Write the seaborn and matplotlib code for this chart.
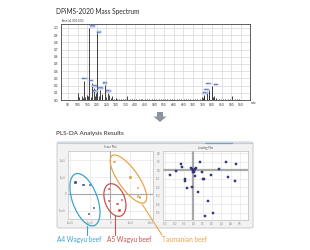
import numpy as np
import pandas as pd
import matplotlib
matplotlib.use("Agg")
import matplotlib.pyplot as plt
import seaborn as sns
from matplotlib.patches import Ellipse, FancyBboxPatch, Polygon
from matplotlib.lines import Line2D
from matplotlib.transforms import IdentityTransform

# ---------------- data ----------------
spec_mz = [104, 109, 121, 126, 132, 138, 147, 156, 162, 170,
           175, 186, 192, 198, 204, 212, 218, 227, 230, 241,
           250, 258, 265, 272, 280, 290, 298, 305, 316, 324,
           338, 346, 360, 372, 384, 396, 404, 418, 430, 438,
           452, 462, 474, 486, 497, 510, 522, 534, 546, 556,
           568, 580, 592, 604, 616, 628, 640, 652, 664, 676,
           688, 700, 712, 724, 736, 746, 752, 758, 760, 772,
           782, 786, 798, 806, 810, 822, 834, 846, 858, 870,
           882, 894, 904, 918, 930, 942]
spec_int = [0.10, 0.04, 0.06, 0.03, 0.27, 0.04, 0.07, 0.05, 1.00, 0.04,
            0.24, 0.17, 0.06, 0.10, 0.93, 0.05, 0.14, 0.08, 0.06, 0.21,
            0.04, 0.10, 0.07, 0.03, 0.05, 0.02, 0.03, 0.02, 0.015, 0.02,
            0.015, 0.01, 0.06, 0.02, 0.015, 0.02, 0.01, 0.02, 0.015, 0.01,
            0.02, 0.015, 0.01, 0.02, 0.015, 0.02, 0.01, 0.015, 0.02, 0.01,
            0.015, 0.02, 0.01, 0.015, 0.01, 0.02, 0.01, 0.015, 0.01, 0.02,
            0.01, 0.015, 0.01, 0.015, 0.02, 0.04, 0.03, 0.05, 0.07, 0.11,
            0.06, 0.14, 0.19, 0.04, 0.05, 0.03, 0.02, 0.015, 0.02, 0.01,
            0.015, 0.02, 0.05, 0.015, 0.01, 0.015]
label_mz = [132, 162, 175, 186, 198, 204, 218, 241, 258, 760, 772, 786, 798]
x_ticks_spec = list(range(50, 1000, 50))
y_ticks_spec = [0.0, 0.1, 0.2, 0.3, 0.4, 0.5, 0.6, 0.7, 0.8, 0.9, 1.0]

groups = ["A4 Wagyu beef", "A5 Wagyu beef", "Tasmanian beef"]
score_group = ["A4 Wagyu beef"] * 5 + ["A5 Wagyu beef"] * 5 + ["Tasmanian beef"] * 5
score_t1 = [-1.75, -1.35, -1.03, -0.83, -1.08,
            -0.05, -0.04, 0.35, 0.57, 0.45,
            0.20, 1.00, 1.38, 1.38, 1.49]
score_t2 = [0.67, 0.52, 0.52, -0.86, -1.21,
            0.27, -0.43, -0.62, -0.38, -0.99,
            1.91, 0.96, 0.36, -0.17, -0.23]

load_p1 = [-0.132, -0.125, -0.251, -0.183, 0.072, -0.025, -0.014, 0.0, 0.011, -0.006,
           0.018, 0.029, 0.004, 0.018, 0.094, 0.118, 0.104, 0.190, 0.276, 0.352,
           0.457, 0.370, 0.445, -0.092, -0.089, -0.068, -0.012, 0.051, 0.158, 0.215, 0.126]
load_p2 = [0.071, 0.032, -0.051, -0.008, 0.091, 0.020, 0.008, 0.0, -0.012, -0.020,
           0.012, 0.020, -0.027, -0.065, -0.027, -0.098, -0.106, -0.051, 0.012, 0.094,
           0.067, -0.076, -0.124, -0.106, -0.126, -0.208, -0.202, -0.259, -0.365, -0.500, -0.538]

# ---------------- figure ----------------
W, H, DPI = 310, 250, 100
sns.set_theme(style="white")
plt.rcParams['font.family'] = ['Lato', 'DejaVu Sans']
fig = plt.figure(figsize=(W / DPI, H / DPI), dpi=DPI)
fig.patch.set_facecolor("white")


def box(l, t, r, b):
    return [l / W, 1 - b / H, (r - l) / W, (b - t) / H]


def fx(x):
    return x / W


def fy(y):
    return 1 - y / H


# ---------------- mass spectrum ----------------
fig.text(fx(56), fy(11.5), "DPiMS-2020 Mass Spectrum", fontsize=4.7, color="#2a2a2a",
         va="center", ha="left")
ax1 = fig.add_axes(box(61, 24, 250, 100))
ax1.set_xlim(14, 998)
ax1.set_ylim(0, 1.055)
ax1.set_xticks(x_ticks_spec)
ax1.set_xticklabels([str(v) for v in x_ticks_spec])
ax1.set_yticks(y_ticks_spec)
ax1.set_yticklabels([f"{v:.1f}" for v in y_ticks_spec])
ax1.grid(True, color="#d6d6d6", lw=0.5)
ax1.set_axisbelow(True)
ax1.vlines(spec_mz, 0, spec_int, color="#111111", lw=0.55)
ax1.tick_params(labelsize=2.3, length=1, width=0.4, pad=1, colors="#333333")
for s in ax1.spines.values():
    s.set_color("#444444")
    s.set_linewidth(0.6)
int_of = dict(zip(spec_mz, spec_int))
lab_off = {162: (3, 1.5), 204: (1.5, 0.5), 760: (1, 1.5), 772: (0, 2), 786: (-1, 6),
           798: (4.5, 1.5), 132: (0.5, 1.5), 175: (-1, 1.5), 186: (0.5, 1.5),
           198: (-1, 1.5), 218: (0.5, 1.5), 241: (0.5, 1.5), 258: (0.5, 1.5)}
for m in label_mz:
    dx, dy = lab_off[m]
    ax1.annotate(str(m), (m, int_of[m]), xytext=(dx * 0.72, dy * 0.72),
                 textcoords="offset points", fontsize=1.7, color="#1c3c96",
                 ha="center", va="bottom",
                 bbox=dict(boxstyle="square,pad=0.12", fc="#c9d6f3", ec="#4a68b8", lw=0.3))
fig.text(fx(62), fy(20), "Inten.(x1,000,000)", fontsize=2.0, color="#333333", va="center")
fig.text(fx(251), fy(103.5), "m/z", fontsize=2.3, color="#333333", va="center")

# arrow
arrow = Polygon([(fx(157), fy(112)), (fx(163), fy(112)), (fx(163), fy(116.5)),
                 (fx(166.5), fy(116.5)), (fx(160), fy(122)), (fx(153.5), fy(116.5)),
                 (fx(157), fy(116.5))], closed=True, transform=fig.transFigure,
                fc="#8d939d", ec="none")
fig.add_artist(arrow)

# ---------------- PLS-DA ----------------
fig.text(fx(56), fy(133), "PLS-DA Analysis Results", fontsize=4.5, color="#2a2a2a",
         va="center", ha="left")
panel = FancyBboxPatch((fx(57), fy(228)), fx(253) - fx(57), fy(142) - fy(228),
                       boxstyle="round,pad=0,rounding_size=0.006",
                       transform=fig.transFigure, fc="#f2f2f2", ec="#c4c4c4", lw=0.6,
                       zorder=-10)
fig.add_artist(panel)
fig.add_artist(Line2D([fx(58), fx(252)], [fy(142.5), fy(142.5)], transform=fig.transFigure,
                      color="#b9cde6", lw=0.8, zorder=-9))
fig.add_artist(Line2D([fx(205), fx(232)], [fy(142.5), fy(142.5)], transform=fig.transFigure,
                      color="#6f9fd8", lw=0.9, zorder=-9))

pal = {"A4 Wagyu beef": "#3aa3cf", "A5 Wagyu beef": "#c9504f", "Tasmanian beef": "#e8a54b"}
pt_col = {"A4 Wagyu beef": "#2e3a80", "A5 Wagyu beef": "#c0504d", "Tasmanian beef": "#d99a3c"}

# score plot
ax2 = fig.add_axes(box(68.3, 150.5, 152.5, 218.5))
score_df = pd.DataFrame({"t1": score_t1, "t2": score_t2, "group": score_group})
ax2.set_xlim(-2.1, 2.1)
ax2.set_ylim(-1.47, 2.58)
ax2.set_xticks([-2, -1, 0, 1, 2])
ax2.set_xticklabels(["-2e+5", "-1e+5", "0", "1e+5", "2e+5"])
ax2.set_yticks([-1, 0, 1, 2])
ax2.set_yticklabels(["-1e+5", "0", "1e+5", "2e+5"])
ax2.grid(True, color="#e2e2e2", lw=0.4)
ax2.axhline(0, color="#a6a6a6", lw=0.8)
ax2.axvline(0, color="#a6a6a6", lw=0.8)
sns.scatterplot(data=score_df, x="t1", y="t2", hue="group", palette=pt_col, marker="s",
                s=3, linewidth=0.3, legend=False, ax=ax2, zorder=3)
ax2.set_xlabel("")
ax2.set_ylabel("")
ax2.set_title("Score Plot", fontsize=2.0, color="#555555", pad=1.5)

# loading plot
ax3 = fig.add_axes(box(163, 151, 248, 219.5))
load_df = pd.DataFrame({"p1": load_p1, "p2": load_p2})
ax3.set_xlim(-0.326, 0.588)
ax3.set_ylim(-0.576, 0.224)
xt = [-0.3, -0.2, -0.1, 0.0, 0.1, 0.2, 0.3, 0.4, 0.5]
yt = [-0.5, -0.4, -0.3, -0.2, -0.1, 0.0, 0.1, 0.2]
ax3.set_xticks(xt)
ax3.set_xticklabels([f"{v:.1f}" for v in xt])
ax3.set_yticks(yt)
ax3.set_yticklabels([f"{v:.1f}" for v in yt])
ax3.grid(True, color="#e2e2e2", lw=0.4)
ax3.axhline(0, color="#a9a9a9", lw=1.6)
ax3.axvline(0, color="#a9a9a9", lw=1.6)
sns.scatterplot(data=load_df, x="p1", y="p2", color="#3b3f8c", marker="s", s=3,
                linewidth=0.3, edgecolor="#2a2e70", ax=ax3, zorder=3)
ax3.set_xlabel("")
ax3.set_ylabel("")
ax3.set_title("Loading Plot", fontsize=2.0, color="#555555", pad=1.5)

for ax in (ax2, ax3):
    ax.set_facecolor("white")
    ax.tick_params(labelsize=1.8, length=0.8, width=0.3, pad=0.8, colors="#777777")
    for s in ax.spines.values():
        s.set_color("#bdbdbd")
        s.set_linewidth(0.5)

# group ellipses (annotation) anchored in score-plot data coordinates
ell_center = {"A4 Wagyu beef": (-1.27, -0.35), "A5 Wagyu beef": (0.225, -0.37),
              "Tasmanian beef": (0.90, 0.88)}
ell_size = {"A4 Wagyu beef": (27.5, 12.5, 110), "A5 Wagyu beef": (17, 10, 110),
            "Tasmanian beef": (28.5, 10, 125)}
fig.canvas.draw()
for g in groups:
    cx, cy = ax2.transData.transform(ell_center[g])
    a, b, ang = ell_size[g]
    e = Ellipse((cx, cy), 2 * a, 2 * b, angle=ang, transform=IdentityTransform(),
                fill=False, ec=pal[g], lw=0.9, zorder=10)
    fig.add_artist(e)

# leader lines and labels
lead = {"A4 Wagyu beef": ((86.7, 226), (86.7, 235)),
        "A5 Wagyu beef": ((115, 216), (115, 235)),
        "Tasmanian beef": ((142, 204), (162, 235))}
lab_x = {"A4 Wagyu beef": 56.7, "A5 Wagyu beef": 107.3, "Tasmanian beef": 162.3}
for g in groups:
    (x0, y0), (x1, y1) = lead[g]
    fig.add_artist(Line2D([fx(x0), fx(x1)], [fy(y0), fy(y1)], transform=fig.transFigure,
                          color=pal[g], lw=0.8, zorder=10))
    fig.text(fx(lab_x[g]), fy(239.5), g, fontsize=4.7, color=pal[g], va="center", ha="left")

fig.savefig("out.png", dpi=DPI)
